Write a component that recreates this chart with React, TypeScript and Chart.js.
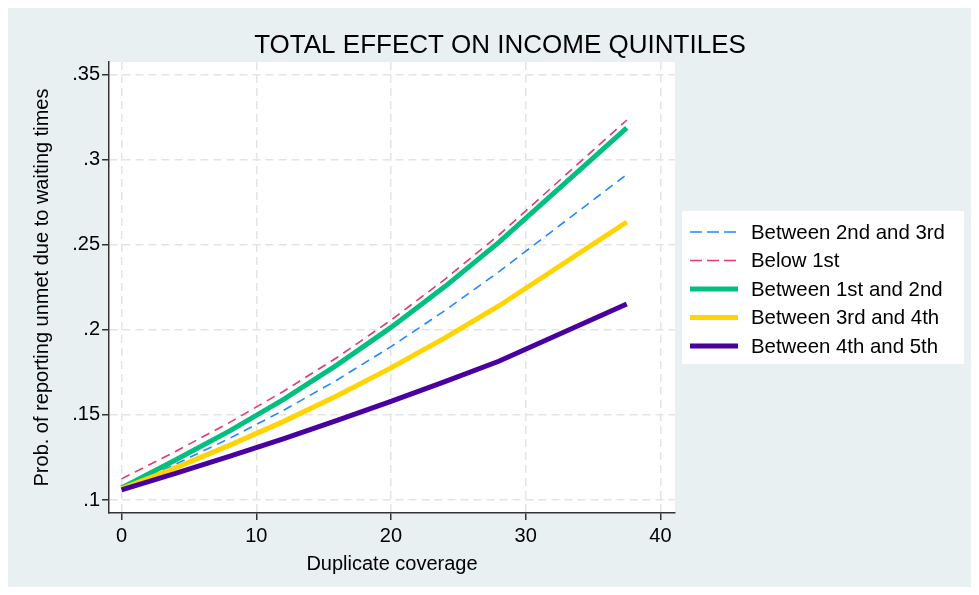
import React, { useEffect, useRef } from "react";
import { Chart, registerables } from "chart.js";

Chart.register(...registerables);

const TITLE = "TOTAL EFFECT ON INCOME QUINTILES";
const X_TITLE = "Duplicate coverage";
const Y_TITLE = "Prob. of reporting unmet due to waiting times";

const coverage = [0, 4, 8, 12, 16, 20, 24, 28, 37.5];
const between2and3 = [0.107, 0.121, 0.1362, 0.1526, 0.1706, 0.1902, 0.2114, 0.2342, 0.2915];
const below1 = [0.1124, 0.1285, 0.1455, 0.1638, 0.1838, 0.2058, 0.2298, 0.2558, 0.3235];
const between1and2 = [0.107, 0.1235, 0.1405, 0.159, 0.1795, 0.2015, 0.2255, 0.2515, 0.3188];
const between3and4 = [0.1065, 0.1189, 0.1321, 0.1461, 0.1613, 0.1777, 0.1953, 0.2141, 0.2635];
const between4and5 = [0.106, 0.1156, 0.1256, 0.136, 0.1468, 0.158, 0.1696, 0.1816, 0.2153];

const seriesLabels = [
  "Between 2nd and 3rd",
  "Below 1st",
  "Between 1st and 2nd",
  "Between 3rd and 4th",
  "Between 4th and 5th",
];
const seriesValues = [between2and3, below1, between1and2, between3and4, between4and5];
const seriesColors = ["#2288ff", "#e33a70", "#00bf7f", "#ffd400", "#4a00a0"];
const seriesDashed = [true, true, false, false, false];

const xTicks = [0, 10, 20, 30, 40];
const yTicks = [0.1, 0.15, 0.2, 0.25, 0.3, 0.35];

const FONT = "'Liberation Sans', Arial, Helvetica, sans-serif";
const PANEL = "#e8f0f2";

const fmtY = (v: number) => {
  const s = (Math.round(v * 100) / 100).toString();
  return s.startsWith("0") ? s.slice(1) : s;
};

export default function App() {
  const ref = useRef<HTMLCanvasElement | null>(null);
  useEffect(() => {
    if (!ref.current) return;
    const bgPlugin = {
      id: "bg",
      beforeDraw(chart: any) {
        const { ctx, chartArea, width, height } = chart;
        ctx.save();
        ctx.fillStyle = PANEL;
        ctx.fillRect(0, 0, width, height);
        ctx.fillStyle = "#ffffff";
        ctx.fillRect(chartArea.left, chartArea.top, chartArea.right - chartArea.left, chartArea.bottom - chartArea.top);
        ctx.restore();
      },
      afterDraw(chart: any) {
        const { ctx } = chart;
        ctx.save();
        // title
        ctx.fillStyle = "#000";
        ctx.font = `26px ${FONT}`;
        ctx.textAlign = "center";
        ctx.textBaseline = "middle";
        ctx.fillText(TITLE, 492, 38);
        // legend
        const bx = 674, by = 203, bw = 282, bh = 153;
        ctx.fillStyle = "#ffffff";
        ctx.fillRect(bx, by, bw, bh);
        chart.data.datasets.forEach((ds: any, i: number) => {
          const y = 224 + i * 28.5;
          ctx.save();
          ctx.strokeStyle = ds.borderColor;
          ctx.lineWidth = ds.borderWidth;
          ctx.setLineDash(ds.borderDash && ds.borderDash.length ? [12, 5] : []);
          ctx.beginPath();
          ctx.moveTo(682, y);
          ctx.lineTo(730, y);
          ctx.stroke();
          ctx.restore();
          ctx.fillStyle = "#000";
          ctx.font = `20.4px ${FONT}`;
          ctx.textAlign = "left";
          ctx.textBaseline = "middle";
          ctx.fillText(ds.label, 743, y + 1);
        });
        ctx.restore();
      },
    };

    const datasets = seriesLabels.map((label, i) => ({
      label,
      data: coverage.map((x, j) => ({ x, y: seriesValues[i][j] })),
      borderColor: seriesColors[i],
      backgroundColor: seriesColors[i],
      borderWidth: seriesDashed[i] ? 1.6 : 5,
      borderDash: seriesDashed[i] ? [9, 6] : [],
      pointRadius: 0,
      tension: 0,
      fill: false,
      order: seriesLabels.length - i,
    }));

    const chart = new Chart(ref.current, {
      type: "line",
      data: { datasets },
      plugins: [bgPlugin],
      options: {
        responsive: false,
        animation: false,
        devicePixelRatio: 1,
        layout: { padding: { top: 54, right: 296, bottom: 0, left: 0 } },
        plugins: { legend: { display: false }, tooltip: { enabled: false }, title: { display: false } },
        scales: {
          x: {
            type: "linear",
            min: -0.93,
            max: 41.08,
            afterBuildTicks: (scale: any) => {
              scale.ticks = xTicks.map((v) => ({ value: v }));
            },
            afterFit: (scale: any) => {
              scale.height = 74;
            },
            ticks: { color: "#000", font: { family: FONT, size: 20 }, padding: 4, maxRotation: 0, autoSkip: false },
            grid: {
              color: "#e4e4e4",
              lineWidth: 1.5,
              tickColor: "#333",
              tickWidth: 1.5,
              tickLength: 7,
              tickBorderDash: [],
            },
            border: { display: true, color: "#333", width: 1.5, dash: [8, 5] },
            title: { display: true, text: X_TITLE, color: "#000", font: { family: FONT, size: 20 }, padding: { top: 0, bottom: 11 } },
          },
          y: {
            type: "linear",
            min: 0.09235,
            max: 0.3576,
            afterBuildTicks: (scale: any) => {
              scale.ticks = yTicks.map((v) => ({ value: v }));
            },
            afterFit: (scale: any) => {
              scale.width = 101;
            },
            ticks: { color: "#000", font: { family: FONT, size: 20 }, padding: 2, callback: (v: any) => fmtY(Number(v)) },
            grid: {
              color: "#e4e4e4",
              lineWidth: 1.5,
              tickColor: "#333",
              tickWidth: 1.5,
              tickLength: 7,
              tickBorderDash: [],
            },
            border: { display: true, color: "#333", width: 1.5, dash: [8, 5] },
            title: { display: true, text: Y_TITLE, color: "#000", font: { family: FONT, size: 20 }, padding: { top: 22, bottom: 0 } },
          },
        },
      },
    } as any);
    return () => chart.destroy();
  }, []);
  return <canvas ref={ref} width={963} height={579} style={{ display: "block", width: 963, height: 579 }} />;
}
